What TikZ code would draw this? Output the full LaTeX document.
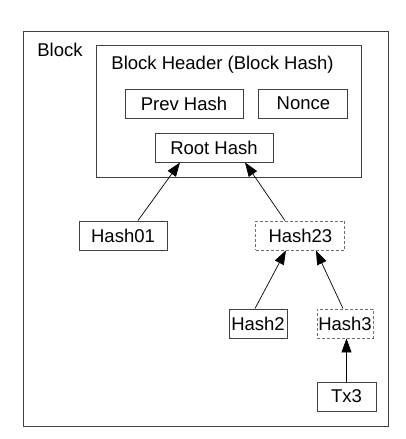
\documentclass[tikz,border=0pt]{standalone}
\usepackage{fontspec}
\setmainfont{Liberation Sans}
\definecolor{boxgray}{HTML}{404040}
\definecolor{dashgray}{HTML}{707070}
\usepackage{tikz}
\usetikzlibrary{positioning,arrows.meta}

\begin{document}
\begin{tikzpicture}[
        x=1pt, y=-1pt,
        node distance=15pt,
        font=\fontsize{18.5}{22}\selectfont,
        hbox/.style={rectangle, draw=boxgray, line width=0.9pt, inner sep=0pt,
                     minimum height=29pt},
        dbox/.style={hbox, draw=dashgray, dash pattern=on 3pt off 2pt},
        arr/.style={-{Triangle[length=14pt, width=10pt]}, line width=0.7pt, color=black}
      ]
        \useasboundingbox (0,0) rectangle (405,439);

        % block and header
        \node[hbox, minimum width=365pt, minimum height=395pt] (block) at (205.5,228.5) {};
        \node at (60,50) (blocklbl) {Block};
        \node[hbox, minimum width=265pt, minimum height=132pt] (header) at (228.5,111) {};
        \node at (222.5,65) (headerlbl) {Block Header (Block Hash)};

        \node[hbox, minimum width=118pt] (prev) at (184,103.5) {Prev Hash};
        \node[hbox, minimum width=89pt, right=of prev] (nonce) {Nonce};
        \node[hbox, minimum width=118pt] (root) at (214,147.5) {Root Hash};

        % merkle branch
        \node[hbox, minimum width=88pt] (hash01) at (123,235.5) {Hash01};
        \node[dbox, minimum width=89pt, right=88pt of hash01] (hash23) {Hash23};
        \node[hbox, minimum width=58pt] (hash2) at (258,323.5) {Hash2};
        \node[dbox, minimum width=56pt] (hash3) at (345,323.5) {Hash3};
        \node[hbox, minimum width=59pt] (tx3) at (346.5,396.5) {Tx3};

        \draw[arr] ([xshift=15pt]hash01.north) -- ([xshift=-34pt]root.south);
        \draw[arr] ([xshift=-15.5pt]hash23.north) -- ([xshift=31pt]root.south);
        \draw[arr] ([xshift=-3pt]hash2.north) -- ([xshift=-14.5pt]hash23.south);
        \draw[arr] ([xshift=-2pt]hash3.north) -- ([xshift=15.5pt]hash23.south);
        \draw[arr] (tx3.north) -- (tx3.north |- hash3.south);
      \end{tikzpicture}
\end{document}
